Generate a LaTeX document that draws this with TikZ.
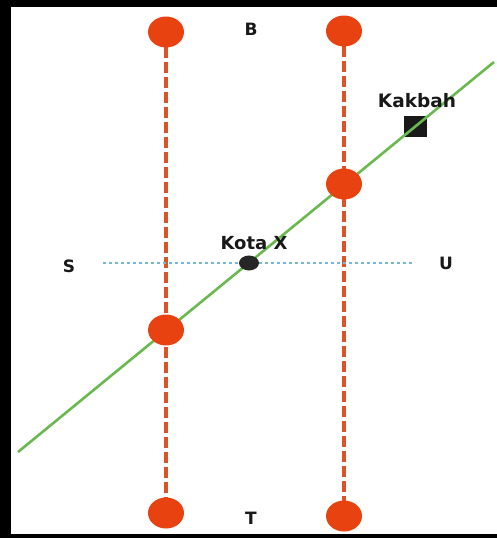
\documentclass[tikz,border=0pt]{standalone}
\usepackage{fontspec}
\setmainfont{DejaVu Sans}
\usetikzlibrary{shapes.geometric,backgrounds}
\definecolor{dotred}{RGB}{232,66,16}
\definecolor{linered}{RGB}{222,82,40}
\definecolor{lgreen}{RGB}{104,186,78}
\definecolor{lblue}{RGB}{120,182,216}
\tikzset{
  reddot/.style={ellipse,fill=dotred,draw=none,minimum width=36pt,minimum height=31pt,inner sep=0pt},
  citydot/.style={ellipse,fill=black!85,draw=none,minimum width=20pt,minimum height=15pt,inner sep=0pt},
  kbox/.style={rectangle,fill=black!90,draw=none,minimum width=23pt,minimum height=21pt,inner sep=0pt},
  lbl/.style={font=\bfseries\fontsize{17}{17}\selectfont,inner sep=0pt,text=black!90},
  meridian/.style={linered,line width=3.5pt,dash pattern=on 11pt off 4pt},
  equator/.style={lblue,line width=2.6pt,dash pattern=on 2.6pt off 3.4pt},
  qibla/.style={lgreen,line width=2.6pt}
}
\begin{document}
\begin{tikzpicture}[x=1pt,y=-1pt]
\useasboundingbox (0,0) rectangle (497,538);
% frame
\fill[black] (0,0) rectangle (11,538);
\fill[black] (0,0) rectangle (497,7);
\fill[black] (0,534) rectangle (497,538);
% dots
\node[reddot] (lt) at (166,32) {};
\node[reddot] (rt) at (344,31) {};
\node[reddot] (lb) at (166,513) {};
\node[reddot] (rb) at (344,516) {};
\node[reddot] (lm) at (166,330) {};
\node[reddot] (rm) at (344,184) {};
\node[citydot] (kota) at (249,263) {};
\coordinate (g1) at (18,452);
\coordinate (g2) at (494,62);
\coordinate (s1) at (103,263);
\coordinate (s2) at (413,263);
\begin{pgfonlayer}{background}
\node[kbox] (kakbah) at (415,126) {};
\draw[meridian] (lt.center) -- (lb.center);
\draw[meridian] (rt.center) -- (rb.center);
\draw[equator] (s1) -- (s2);
\draw[qibla] (g1) -- (g2);
\end{pgfonlayer}
% labels
\node[lbl] (B) at (251,29) {B};
\node[lbl] (T) at (251,518) {T};
\node[lbl] (S) at (69,266) {S};
\node[lbl] (U) at (446,263) {U};
\node[lbl,font=\bfseries\fontsize{18}{18}\selectfont] (kx) at (254,243) {Kota X};
\node[lbl,font=\bfseries\fontsize{18.5}{18}\selectfont] (kk) at (417,101) {Kakbah};
\end{tikzpicture}
\end{document}
